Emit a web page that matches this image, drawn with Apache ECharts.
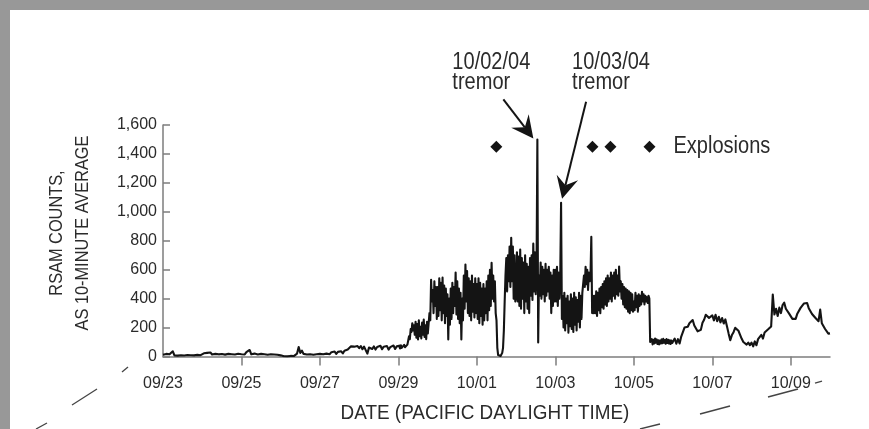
<!DOCTYPE html>
<html>
<head>
<meta charset="utf-8">
<script src="https://cdn.jsdelivr.net/npm/echarts@6/dist/echarts.min.js"></script>
<style>
  html, body { margin: 0; padding: 0; background: #ffffff; }
  #chart { width: 869px; height: 429px; }
</style>
</head>
<body>
<div id="chart"></div>
<script>
// Date tick labels, every two days starting 09/23 00:00 PDT
const dateTicks = ['09/23', '09/25', '09/27', '09/29', '10/01', '10/03', '10/05', '10/07', '10/09'];

// RSAM counts (10-minute average). Each array spans one day, 09/23 .. 10/09:
// quiet days are sampled hourly (24 values), the unrest days every 30 minutes (48 values).
const sep23 = [12, 5, 18, 8, 15, 10, 36, 8, 14, 6, 16, 9, 12, 7, 15, 10, 18, 9, 14, 8, 17, 11, 15, 9];
const sep24 = [14, 22, 12, 25, 16, 28, 14, 24, 18, 30, 15, 26, 17, 29, 13, 25, 18, 31, 16, 27, 14, 24, 19, 28];
const sep25 = [16, 28, 14, 30, 18, 45, 15, 27, 20, 32, 14, 26, 18, 30, 15, 28, 12, 25, 16, 29, 14, 24, 12, 22];
const sep26 = [8, 4, 2, 3, 1, 2, 4, 2, 3, 8, 20, 65, 25, 40, 18, 30, 14, 26, 16, 24, 12, 22, 15, 25];
const sep27 = [18, 30, 15, 28, 20, 32, 16, 30, 22, 34, 18, 32, 24, 36, 22, 40, 30, 48, 55, 70, 78, 68, 62, 72];
const sep28 = [58, 72, 50, 68, 55, 20, 62, 75, 52, 70, 48, 66, 58, 74, 50, 68, 55, 72, 48, 65, 60, 76, 52, 70];
const sep29 = [62, 75, 55, 78, 60, 72, 58, 80, 64, 74, 60, 82,
  95, 140, 120, 190, 170, 230, 180, 215,
  150, 240, 130, 225, 118, 250, 140, 205, 125, 235, 150, 255, 135, 215, 120, 240, 160, 230,
  300, 250, 530, 380, 460, 300, 520, 350, 480, 260];
const sep30 = [480, 280, 540, 320, 510, 250, 545, 300, 490, 230, 470, 280,
  430, 117, 400, 220, 470, 260, 510, 300, 480, 350, 580, 290,
  520, 260, 470, 230, 440, 117, 400, 250, 560, 330, 635, 380,
  590, 300, 540, 280, 520, 250, 560, 310, 500, 270, 540, 300];
const oct01 = [500, 260, 540, 230, 510, 280, 470, 220, 500, 250, 470, 300,
  520, 250, 560, 320, 600, 350, 648, 400,
  560, 380, 520, 300, 250, 60, 10, 5, 8, 3, 15, 25,
  60, 180, 380, 560, 680, 450, 700, 520, 760, 480, 820, 520, 760, 400, 700, 380];
const oct02 = [420, 720, 380, 690, 350, 740, 330, 680, 400, 650, 300, 700,
  380, 640, 330, 620, 300, 680, 420, 700, 390, 780, 450, 720,
  430, 600, 1500, 97, 560, 420, 650, 400, 620, 430, 600, 380,
  640, 420, 600, 450, 620, 400, 580, 300, 560, 350, 600, 380];
const oct03 = [600, 380, 620, 350, 580, 400, 560, 1062,
  260, 420, 200, 440, 180, 400, 230, 420, 165, 380, 210, 430, 190, 400, 170, 440, 220, 410, 180, 390, 240, 440, 200, 420, 260, 440,
  450, 560, 480, 620, 500, 600, 460, 580, 520,
  560, 828, 300, 420, 300];
const oct04 = [420, 300, 450, 280, 440, 320, 470, 300, 480, 340, 500, 330,
  520, 360, 540, 350, 560, 380, 540, 400, 580, 380, 560, 420,
  580, 400, 600, 430, 560, 420, 621, 450, 520, 400, 500, 360,
  480, 340, 470, 330, 460, 310, 450, 300, 440, 320, 430, 310];
const oct05 = [380, 320, 440, 340, 420, 310, 430, 350, 420, 360, 448, 380, 430, 360, 420, 380, 410, 370, 420, 400,
  100, 88, 120, 84, 116, 90, 124, 96, 118, 86, 112, 84, 110, 90, 118, 92, 122, 96, 114, 88, 120, 94, 116, 90, 112, 86, 110, 94];
const oct06 = [100, 124, 88, 120, 90, 138, 144, 200, 200, 206, 230, 222, 252, 214, 208, 174, 180, 184, 233, 254, 288, 298, 267, 280];
const oct07 = [284, 250, 288, 244, 274, 236, 266, 228, 256, 208, 158, 113, 148, 168, 198, 200, 178, 150, 122, 100, 92, 82, 96, 78];
const oct08 = [96, 70, 104, 78, 120, 114, 150, 124, 166, 154, 186, 180, 207, 428, 290, 330, 280, 338, 300, 356, 372, 330, 340, 296];
const oct09 = [300, 260, 263, 260, 296, 304, 336, 340, 366, 368, 370, 334, 326, 294, 286, 268, 266, 244, 324, 230, 230, 190, 194, 158];
const finalReading = 160; // 10/10 00:00

// Explosion times, hours after 09/23 00:00, and the level the markers sit at
const explosionHours = [203.9, 262.7, 273.7, 297.6];
const explosionLevel = 1450;

// Tremor events, hours after 09/23 00:00
const tremorHours = [229, 243.5];
const tremorLabels = [['10/02/04', 'tremor'], ['10/03/04', 'tremor']];

const days = [sep23, sep24, sep25, sep26, sep27, sep28, sep29, sep30,
  oct01, oct02, oct03, oct04, oct05, oct06, oct07, oct08, oct09];
const rsam = [];
days.forEach((vals, d) => {
  vals.forEach((v, i) => rsam.push([d * 24 + i * 24 / vals.length, v]));
});
rsam.push([days.length * 24, finalReading]);
const endHour = days.length * 24;
const explosions = explosionHours.map(h => [h, explosionLevel]);
const tickHours = dateTicks.map((_, i) => i * 48);

const FONT = '"Liberation Sans", Arial, Helvetica, sans-serif';
const AXIS_GRAY = '#7d7d7d';
const TEXT = '#2b2b2b';
const INK = '#141414';

const chart = echarts.init(document.getElementById('chart'), null, { renderer: 'canvas' });

chart.setOption({
  animation: false,
  backgroundColor: '#ffffff',
  grid: { left: 163, right: 39, top: 125, bottom: 72.5 },
  xAxis: {
    type: 'value',
    min: 0,
    max: endHour,
    axisLine: { lineStyle: { color: AXIS_GRAY, width: 1.5 } },
    axisTick: {
      show: true, inside: false, length: 9,
      customValues: tickHours.slice(1),
      lineStyle: { color: AXIS_GRAY, width: 1.5 }
    },
    axisLabel: {
      customValues: tickHours,
      formatter: v => dateTicks[Math.round(v / 48)] || '',
      fontFamily: FONT, fontSize: 16, color: TEXT, margin: 19
    },
    splitLine: { show: false }
  },
  yAxis: {
    type: 'value',
    min: 0, max: 1600, interval: 200,
    axisLine: { show: true, lineStyle: { color: AXIS_GRAY, width: 1.5 } },
    axisTick: { show: true, inside: true, length: 7, lineStyle: { color: AXIS_GRAY, width: 1.5 } },
    axisLabel: {
      formatter: v => v.toLocaleString('en-US'),
      fontFamily: FONT, fontSize: 16, color: TEXT, margin: 6
    },
    splitLine: { show: false }
  },
  series: [
    {
      type: 'line',
      data: rsam,
      showSymbol: false,
      sampling: 'none',
      lineStyle: { color: INK, width: 2.1, join: 'round' },
      z: 3
    },
    {
      type: 'scatter',
      data: explosions,
      symbol: 'diamond',
      symbolSize: 12,
      itemStyle: { color: INK, opacity: 1 },
      z: 4
    }
  ]
});

// Annotations placed relative to the tremor spikes
const arrowSpecs = [
  { tipShift: [-4, -1], tail: [-30, -39], text: [-51, -45] },
  { tipShift: [1, -4], tail: [24, -97], text: [-14, -47] }
];

function arrowShapes(tip, tail) {
  const dx = tip[0] - tail[0], dy = tip[1] - tail[1];
  const len = Math.hypot(dx, dy);
  const ux = dx / len, uy = dy / len;
  const nx = -uy, ny = ux;
  const L = 22, W = 11, N = 14;
  const back = [tip[0] - L * ux, tip[1] - L * uy];
  const notch = [tip[0] - N * ux, tip[1] - N * uy];
  return [
    {
      type: 'line',
      shape: { x1: tail[0], y1: tail[1], x2: notch[0], y2: notch[1] },
      style: { stroke: INK, lineWidth: 2 },
      z: 20
    },
    {
      type: 'polygon',
      shape: {
        points: [
          tip,
          [back[0] + W * nx, back[1] + W * ny],
          notch,
          [back[0] - W * nx, back[1] - W * ny]
        ]
      },
      style: { fill: INK },
      z: 20
    }
  ];
}

// Condensed-looking annotation text: a larger face squeezed horizontally
const NOTE_FONT = '23px ' + FONT;
const NOTE_SCALE = 0.87;

const graphics = [
  // frame strips
  { type: 'rect', shape: { x: 0, y: 0, width: 869, height: 10 }, style: { fill: '#989898' }, z: 30 },
  { type: 'rect', shape: { x: 0, y: 0, width: 10, height: 429 }, style: { fill: '#989898' }, z: 30 },
  // y axis title
  {
    type: 'text', x: 70, y: 233, rotation: Math.PI / 2, scaleX: 0.86,
    style: {
      text: 'RSAM COUNTS,\nAS 10-MINUTE AVERAGE',
      align: 'center', verticalAlign: 'middle', lineHeight: 26,
      font: '19px ' + FONT, fill: TEXT
    },
    z: 20
  },
  // x axis title
  {
    type: 'text', x: 485, y: 413, scaleX: 0.9,
    style: {
      text: 'DATE (PACIFIC DAYLIGHT TIME)',
      align: 'center', verticalAlign: 'middle',
      font: '21px ' + FONT, fill: TEXT
    },
    z: 20
  }
];

// perspective guide dashes below the axis
const guideDashes = [
  [[36, 429], [47, 423]], [[72, 405], [97, 389]], [[122, 372], [128, 367]],
  [[640, 429], [660, 424]], [[700, 414], [730, 406]], [[768, 397], [798, 389]], [[815, 383], [822, 381]]
];
guideDashes.forEach(seg => graphics.push({
  type: 'line',
  shape: { x1: seg[0][0], y1: seg[0][1], x2: seg[1][0], y2: seg[1][1] },
  style: { stroke: '#444', lineWidth: 1.3 },
  z: 20
}));

tremorHours.forEach((h, i) => {
  const peak = rsam.find(p => p[0] === h);
  const spike = chart.convertToPixel({ gridIndex: 0 }, peak);
  const spec = arrowSpecs[i];
  const tip = [spike[0] + spec.tipShift[0], spike[1] + spec.tipShift[1]];
  const tail = [tip[0] + spec.tail[0], tip[1] + spec.tail[1]];
  arrowShapes(tip, tail).forEach(g => graphics.push(g));
  graphics.push({
    type: 'text',
    x: tail[0] + spec.text[0], y: tail[1] + spec.text[1] - 2,
    scaleX: NOTE_SCALE,
    style: {
      text: tremorLabels[i].join('\n'),
      align: 'left', verticalAlign: 'top', lineHeight: 20,
      font: NOTE_FONT, fill: TEXT
    },
    z: 20
  });
});

// legend text beside the last explosion marker
const lastBlast = chart.convertToPixel({ gridIndex: 0 }, explosions[explosions.length - 1]);
graphics.push({
  type: 'text',
  x: lastBlast[0] + 24, y: lastBlast[1],
  scaleX: NOTE_SCALE,
  style: {
    text: 'Explosions',
    align: 'left', verticalAlign: 'middle',
    font: NOTE_FONT, fill: TEXT
  },
  z: 20
});

chart.setOption({ graphic: graphics });
</script>
</body>
</html>
